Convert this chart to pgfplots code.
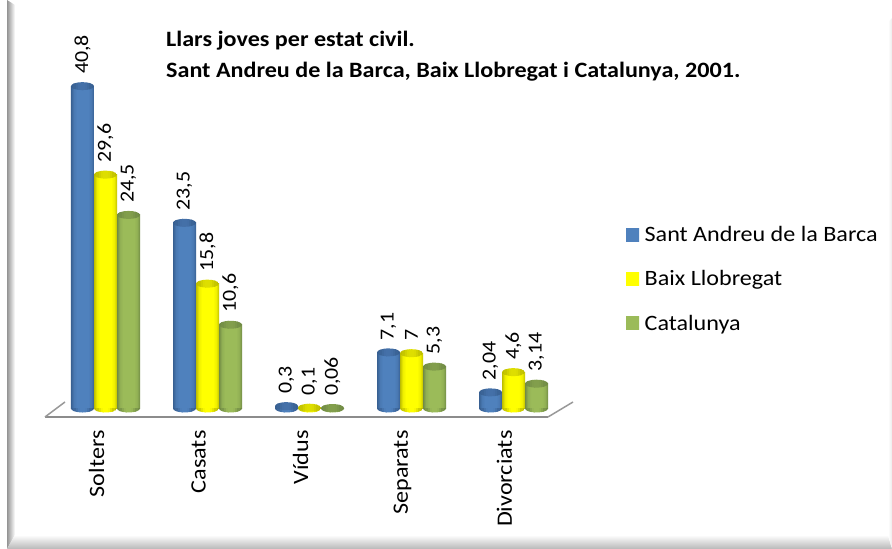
\documentclass[border=0pt]{standalone}
\usepackage{fontspec}
\setmainfont{Carlito}[FakeStretch=1.1]
\usepackage{pgfplots}
\pgfplotsset{compat=1.18}
\definecolor{legblue}{RGB}{79,129,189}
\definecolor{legyellow}{RGB}{255,255,0}
\definecolor{leggreen}{RGB}{155,187,89}
\definecolor{bluedark}{RGB}{56,96,146}
\definecolor{yellowdark}{RGB}{190,190,0}
\definecolor{greendark}{RGB}{113,139,69}
\definecolor{bluecap}{RGB}{68,112,168}
\definecolor{yellowcap}{RGB}{222,222,0}
\definecolor{greencap}{RGB}{130,158,76}
% bars: dark edges, flat middle
\newcommand{\cylshade}[3]{%
  \pgfdeclarehorizontalshading{#1}{100bp}{color(0bp)=(#2); color(25bp)=(#2); color(31bp)=(#3!75!#2); color(38bp)=(#3); color(62bp)=(#3); color(69bp)=(#3!75!#2); color(75bp)=(#2); color(100bp)=(#2)}}
\cylshade{cylblue}{bluedark}{legblue}
\cylshade{cylyellow}{yellowdark}{legyellow}
\cylshade{cylgreen}{greendark}{leggreen}
% ellipses at the two ends of a bar, cut in strips; #3 is the height kept above the centre
\newcommand{\cylstrips}[3]{%
  \pgfscope
  \pgfpathrectangle{\pgfqpoint{-12bp}{-5bp}}{\pgfqpoint{24bp}{#3}}%
  \pgfusepath{clip}%
  \pgfpathellipse{\pgfpointorigin}{\pgfqpoint{11.5bp}{0pt}}{\pgfqpoint{0pt}{4bp}}%
  \pgfusepath{clip}%
  \foreach \p [count=\i from 0] in {0,25,60,90,100,100,90,60,25,0}{%
    \pgfmathsetlengthmacro{\xa}{(-11.5+2.3*\i)*1bp}%
    \pgfsetfillcolor{#2!\p!#1}%
    \pgfpathrectangle{\pgfpoint{\xa}{-5bp}}{\pgfqpoint{2.6bp}{10bp}}%
    \pgfusepath{fill}%
  }%
  \endpgfscope}
\pgfdeclareplotmark{bbase}{\cylstrips{bluedark}{legblue}{5bp}}
\pgfdeclareplotmark{ybase}{\cylstrips{yellowdark}{legyellow}{5bp}}
\pgfdeclareplotmark{gbase}{\cylstrips{greendark}{leggreen}{5bp}}
\pgfdeclareplotmark{btop}{\cylstrips{bluedark}{bluecap}{10bp}}
\pgfdeclareplotmark{ytop}{\cylstrips{yellowdark}{yellowcap}{10bp}}
\pgfdeclareplotmark{gtop}{\cylstrips{greendark}{greencap}{10bp}}
\pgfplotsset{
  cyl/.style={ybar, bar width=23bp, bar shift=0pt, draw=none, shade, shading=#1},
  caps/.style={forget plot, only marks, mark size=1pt},
  labs/.style={nodes near coords, point meta=explicit symbolic,
    every node near coord/.append style={rotate=90, anchor=west, font=\fontsize{20}{20}\selectfont, inner sep=0pt, xshift=12bp}},
}
\begin{document}
\begin{tikzpicture}
\begin{scope}[x=1bp,y=1bp]
\path[use as bounding box] (0,0) rectangle (892,549);
\shade[left color=black!42,right color=white] (7,0) -- (15,14) -- (15,544) -- (7,549) -- cycle;
\shade[top color=white,bottom color=black!28] (7,0) -- (892,0) -- (888,14) -- (15,14) -- cycle;
\shade[left color=white,right color=black!8] (888,14) -- (892,0) -- (892,531) -- (888,527) -- cycle;
\end{scope}
\begin{axis}[at={(105.5bp,140.5bp)}, anchor=origin, scale only axis,
  width=503bp, height=357bp,
  xmin=-0.593, xmax=4.338, ymin=-1.076, ymax=44.11,
  clip=false,
  axis x line=bottom, axis y line=none,
  x axis line style={-, draw=black!45, line width=1.5pt},
  xtick={0,1,2,3,4}, xticklabels={Solters,Casats,Vídus,Separats,Divorciats},
  major tick length=0pt,
  xticklabel style={rotate=90, anchor=east, font=\fontsize{22}{22}\selectfont, xshift=-10bp, yshift=9bp},
  legend style={at={(1.155,0.54)}, anchor=north west, draw=none, fill=none, inner sep=0pt,
    row sep=23.5bp, font=\fontsize{22}{22}\selectfont,
    /tikz/every odd column/.append style={column sep=3.5bp}},
  legend cell align=left,
]
% Sant Andreu
\addplot[caps, mark=bbase] coordinates {(-0.2255,0) (0.7745,0) (1.7745,0) (2.7745,0) (3.7745,0)};
\addplot[cyl=cylblue, legend image code/.code={\fill[left color=legblue,right color=legblue,middle color=legblue] (0,-6.5bp) rectangle (13bp,6.5bp);}]
  coordinates {(-0.2255,40.8)};
\addlegendentry{Sant Andreu de la Barca}
\addplot[cyl=cylblue, forget plot] coordinates {(0.7745,23.5)};
\addplot[cyl=cylblue, forget plot] coordinates {(1.7745,0.3)};
\addplot[cyl=cylblue, forget plot] coordinates {(2.7745,7.1)};
\addplot[cyl=cylblue, forget plot] coordinates {(3.7745,2.04)};
\addplot[caps, mark=btop, labs] coordinates {(-0.2255,40.8) [40,8] (0.7745,23.5) [23,5] (1.7745,0.3) [0,3] (2.7745,7.1) [7,1] (3.7745,2.04) [2,04]};
% Baix Llobregat
\addplot[caps, mark=ybase] coordinates {(0,0) (1,0) (2,0) (3,0) (4,0)};
\addplot[cyl=cylyellow, legend image code/.code={\fill[left color=legyellow,right color=legyellow,middle color=legyellow] (0,-6.5bp) rectangle (13bp,6.5bp);}]
  coordinates {(0,29.6)};
\addlegendentry{Baix Llobregat}
\addplot[cyl=cylyellow, forget plot] coordinates {(1,15.8)};
\addplot[cyl=cylyellow, forget plot] coordinates {(2,0.1)};
\addplot[cyl=cylyellow, forget plot] coordinates {(3,7)};
\addplot[cyl=cylyellow, forget plot] coordinates {(4,4.6)};
\addplot[caps, mark=ytop, labs] coordinates {(0,29.6) [29,6] (1,15.8) [15,8] (2,0.1) [0,1] (3,7) [7] (4,4.6) [4,6]};
% Catalunya
\addplot[caps, mark=gbase] coordinates {(0.2255,0) (1.2255,0) (2.2255,0) (3.2255,0) (4.2255,0)};
\addplot[cyl=cylgreen, legend image code/.code={\fill[left color=leggreen,right color=leggreen,middle color=leggreen] (0,-6.5bp) rectangle (13bp,6.5bp);}]
  coordinates {(0.2255,24.5)};
\addlegendentry{Catalunya}
\addplot[cyl=cylgreen, forget plot] coordinates {(1.2255,10.6)};
\addplot[cyl=cylgreen, forget plot] coordinates {(2.2255,0.06)};
\addplot[cyl=cylgreen, forget plot] coordinates {(3.2255,5.3)};
\addplot[cyl=cylgreen, forget plot] coordinates {(4.2255,3.14)};
\addplot[caps, mark=gtop, labs] coordinates {(0.2255,24.5) [24,5] (1.2255,10.6) [10,6] (2.2255,0.06) [0,06] (3.2255,5.3) [5,3] (4.2255,3.14) [3,14]};
\end{axis}
\begin{scope}[x=1bp,y=1bp]
\draw[black!40, line width=1.5pt] (45,132) -- (65,147);
\draw[black!40, line width=1.5pt] (548,132) -- (573,147);
\node[anchor=west, inner sep=0pt, font=\bfseries\fontsize{22}{22}\selectfont] at (166,508) {Llars joves per estat civil.};
\node[anchor=west, inner sep=0pt, font=\bfseries\fontsize{22}{22}\selectfont] at (166,477) {Sant Andreu de la Barca, Baix Llobregat i Catalunya, 2001.};
\end{scope}
\end{tikzpicture}
\end{document}
